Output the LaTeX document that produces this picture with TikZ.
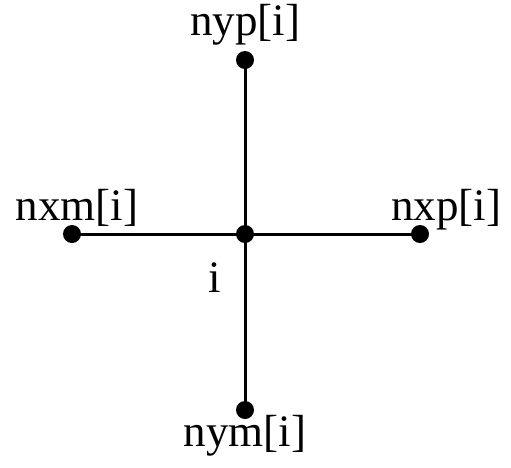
\documentclass[tikz,border=0pt]{standalone}
\usepackage{fontspec}
\setmainfont{Liberation Serif}
\usetikzlibrary{positioning}
\tikzset{
    site/.style={
        circle, fill=black, inner sep=0pt, minimum size=18pt,
    },
    lbl/.style={
        inner sep=0pt, anchor=base, font=\fontsize{45}{54}\selectfont,
    },
    bond/.style={line width=3pt, draw=black},
}
\begin{document}
\begin{tikzpicture}[x=1pt, y=-1pt]
    \useasboundingbox (0,0) rectangle (511,467);

    \node[site] (c)   at (245,234) {};
    \node[site] (nyp) at (245,60)  {};
    \node[site] (nym) at (245,410) {};
    \node[site] (nxm) at (72,234)  {};
    \node[site] (nxp) at (420,234) {};

    \draw[bond] (nyp.center) -- (nym.center);
    \draw[bond] (nxm.center) -- (nxp.center);

    \node[lbl] (tnyp) at (245,35)  {nyp[i]};
    \node[lbl] (tnym) at (245,446) {nym[i]};
    \node[lbl] (tnxm) at (77,220)  {nxm[i]};
    \node[lbl] (tnxp) at (446,220) {nxp[i]};
    \node[lbl] (ti)   at (215,292) {i};
\end{tikzpicture}
\end{document}
